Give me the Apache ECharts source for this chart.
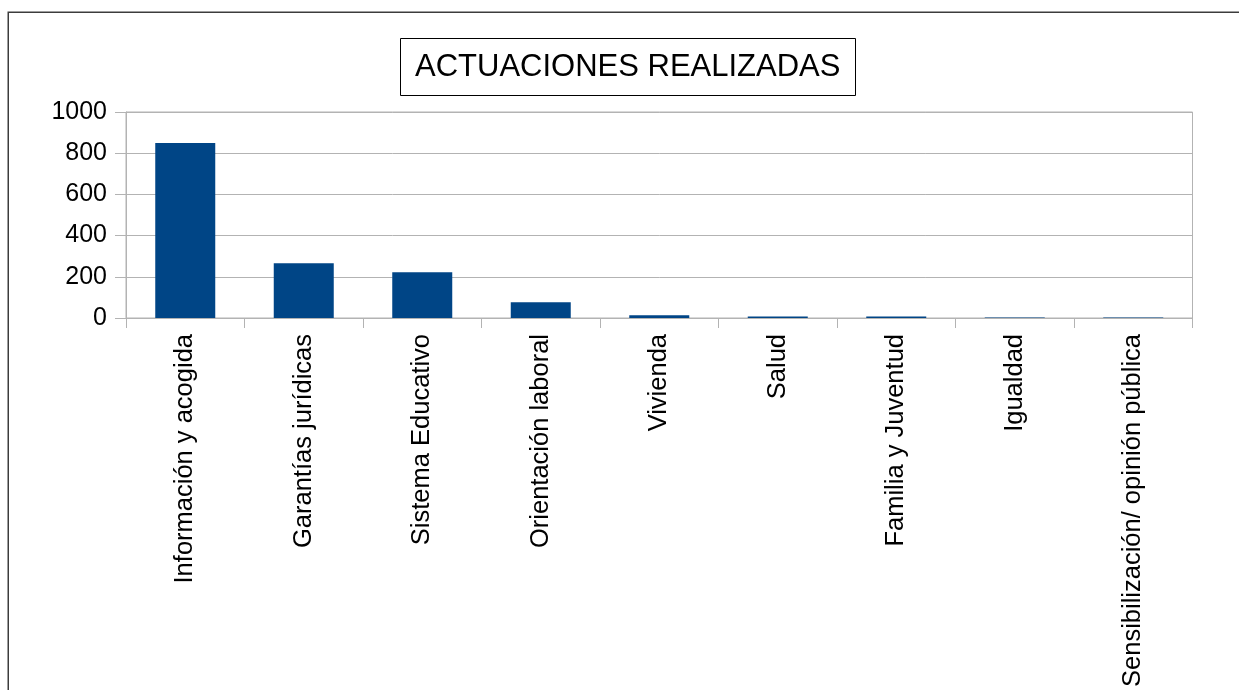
<!DOCTYPE html>
<html>
<head>
<meta charset="utf-8">
<script src="https://cdn.jsdelivr.net/npm/echarts@6/dist/echarts.min.js"></script>
<style>
html,body{margin:0;padding:0;background:#fff;}
#chart{width:1239px;height:690px;}
</style>
</head>
<body>
<div id="chart"></div>
<script>
const categories = ['Información y acogida','Garantías jurídicas','Sistema Educativo','Orientación laboral','Vivienda','Salud','Familia y Juventud','Igualdad','Sensibilización/ opinión pública'];
const values = [849, 266, 222, 76, 13, 7, 7, 3, 3];
const yTicks = [0, 200, 400, 600, 800, 1000];

const chart = echarts.init(document.getElementById('chart'), null, {renderer: 'canvas'});
const font = '"Liberation Sans", Arial, sans-serif';
chart.setOption({
  animation: false,
  backgroundColor: '#ffffff',
  graphic: [{
    type: 'rect',
    shape: {x: 8.25, y: 12.25, width: 1300, height: 750},
    style: {fill: 'none', stroke: '#3c3c3c', lineWidth: 1.5},
    silent: true
  }],
  title: {
    text: 'ACTUACIONES REALIZADAS',
    left: 400, top: 38,
    padding: [12, 15],
    borderColor: '#000', borderWidth: 1,
    textStyle: {fontFamily: font, fontSize: 31, fontWeight: 'normal', color: '#000', lineHeight: 34}
  },
  grid: {left: 126, right: 46.5, top: 112, bottom: 372, show: true, borderColor: '#b3b3b3', borderWidth: 1, containLabel: false},
  xAxis: {
    type: 'category',
    data: categories,
    axisLine: {lineStyle: {color: '#b3b3b3', width: 1}},
    axisTick: {show: true, length: 10, alignWithLabel: false, lineStyle: {color: '#b3b3b3'}},
    axisLabel: {rotate: 90, margin: 16, interval: 0, fontFamily: font, fontSize: 25.5, color: '#000'}
  },
  yAxis: {
    type: 'value',
    min: yTicks[0], max: yTicks[yTicks.length - 1], interval: 200,
    axisLine: {show: true, lineStyle: {color: '#b3b3b3', width: 1}},
    axisTick: {show: true, length: 11, lineStyle: {color: '#b3b3b3'}},
    splitLine: {show: true, lineStyle: {color: '#b3b3b3', width: 1}},
    axisLabel: {margin: 19, fontFamily: font, fontSize: 25, color: '#000', formatter: v => String(v)}
  },
  series: [{
    type: 'bar',
    data: values,
    barWidth: 60,
    itemStyle: {color: '#004586'}
  }]
});
</script>
</body>
</html>
